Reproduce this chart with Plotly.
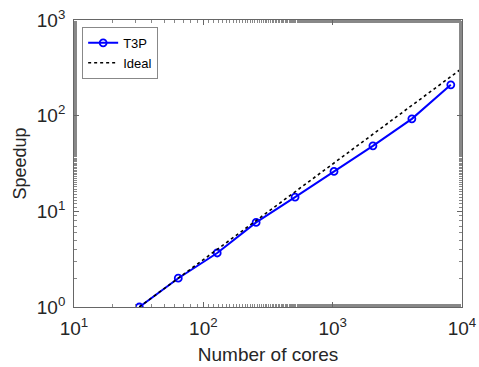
import plotly.graph_objects as go

cores = [32, 64, 128, 256, 512, 1024, 2048, 4096, 8192]
t3p_speedup = [1.0, 2.0, 3.67, 7.66, 14.1, 26.1, 48.4, 92.6, 210]
ideal_cores = [32, 10000]
ideal_speedup = [1.0, 312.5]

x_tickvals = [10, 100, 1000, 10000]
x_ticktext = ["10<sup>1</sup>", "10<sup>2</sup>", "10<sup>3</sup>", "10<sup>4</sup>"]
y_tickvals = [1, 10, 100, 1000]
y_ticktext = ["10<sup>0</sup>", "10<sup>1</sup>", "10<sup>2</sup>", "10<sup>3</sup>"]

fig = go.Figure()
fig.add_trace(go.Scatter(
    x=cores, y=t3p_speedup, mode="lines+markers", name="T3P",
    line=dict(color="#0000ff", width=2),
    marker=dict(symbol="circle-open", size=7, color="#0000ff", line=dict(width=1.8)),
))
fig.add_trace(go.Scatter(
    x=ideal_cores, y=ideal_speedup, mode="lines", name="Ideal",
    line=dict(color="black", width=1.6, dash="dot"),
))

axis_common = dict(
    type="log", automargin=False, ticklabeloverflow="allow",
    showgrid=False, zeroline=False, showline=True, linecolor="#666666", linewidth=0.8,
    mirror="ticks", ticks="inside", ticklen=5, tickcolor="#666666", tickwidth=0.8,
    tickfont=dict(size=19, color="#262626"),
    minor=dict(ticks="inside", ticklen=3, tickcolor="#888888", tickwidth=0.7, showgrid=False),
)

fig.update_xaxes(range=[1, 4], tickmode="array", tickvals=x_tickvals, ticktext=x_ticktext,
                 ticklabelstandoff=4,
                 title=dict(text="Number of cores", font=dict(size=19, color="#262626"), standoff=9),
                 **axis_common)
fig.update_yaxes(range=[0, 3], tickmode="array", tickvals=y_tickvals, ticktext=y_ticktext,
                 ticklabelstandoff=4,
                 title=dict(text="Speedup", font=dict(size=18, color="#262626"), standoff=5),
                 **axis_common)

fig.update_layout(
    width=479, height=367,
    margin=dict(l=74, r=17, t=20, b=60),
    paper_bgcolor="white", plot_bgcolor="white",
    font=dict(family="Liberation Sans, Arial, sans-serif", color="#262626"),
    showlegend=True,
    legend=dict(x=0.021, y=0.976, xanchor="left", yanchor="top",
                bordercolor="#888888", borderwidth=1, bgcolor="white",
                font=dict(size=13, color="black"), tracegroupgap=0,
                itemwidth=30),
)

fig.write_html("out.html", config={"displayModeBar": False},
               post_script="document.body.style.margin='0';")
